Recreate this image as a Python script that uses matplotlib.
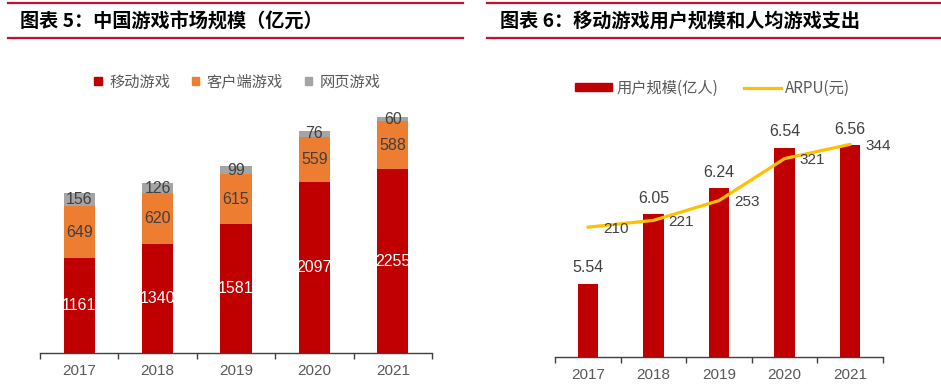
import matplotlib
matplotlib.use("Agg")
import matplotlib.pyplot as plt
from matplotlib.lines import Line2D
from matplotlib.patches import Patch
import numpy as np

plt.rcParams['font.family'] = ['Liberation Sans', 'Noto Sans CJK SC', 'DejaVu Sans']

years = ['2017', '2018', '2019', '2020', '2021']

# 图表5：中国游戏市场规模（亿元）
mobile = [1161, 1340, 1581, 2097, 2255]
client = [649, 620, 615, 559, 588]
web = [156, 126, 99, 76, 60]

# 图表6：移动游戏用户规模和人均游戏支出
users = [5.54, 6.05, 6.24, 6.54, 6.56]
arpu = [210, 221, 253, 321, 344]

RED = '#C00000'
ORANGE = '#ED7D31'
GRAY = '#A5A5A5'
YELLOW = '#FFC000'
TXT = '#595959'
DARK = '#404040'
HEAD = '#C8102E'

fig = plt.figure(figsize=(9.41, 3.87), dpi=100)
W, H = 941.0, 387.0


def fx(px):
    return px / W


def fy(py):
    return 1 - py / H


def header(x0, x1, tx, title):
    for y in (3, 38):
        fig.add_artist(Line2D([fx(x0), fx(x1)], [fy(y), fy(y)], color=HEAD, lw=1.6))
    fig.text(fx(tx), fy(22), title, fontsize=13.8, fontweight='bold', color='black',
             family=['Noto Sans CJK SC', 'DejaVu Sans'], va='center', ha='left')


def style_xaxis(ax):
    for s in ('top', 'right', 'left'):
        ax.spines[s].set_visible(False)
    ax.spines['bottom'].set_color(DARK)
    ax.spines['bottom'].set_linewidth(1.0)
    ax.set_yticks([])
    ax.set_xlim(-0.5, 4.5)
    ax.set_xticks(range(len(years)))
    ax.set_xticklabels(years, fontsize=11, color=TXT)
    ax.tick_params(axis='x', which='major', length=0, pad=8)
    ax.set_xticks(np.arange(-0.5, len(years)), minor=True)
    ax.tick_params(axis='x', which='minor', length=4, width=1, color=DARK)


header(8, 463, 20, '图表 5：中国游戏市场规模（亿元）')
header(487, 941, 500, '图表 6：移动游戏用户规模和人均游戏支出')

# left chart: stacked bars
ax1 = fig.add_axes([fx(40), fy(353), fx(392), 285 / H])
x = np.arange(len(years))
b1 = ax1.bar(x, mobile, 0.4, color=RED)
b2 = ax1.bar(x, client, 0.4, bottom=mobile, color=ORANGE)
b3 = ax1.bar(x, web, 0.4, bottom=np.add(mobile, client), color=GRAY)
ax1.bar_label(b1, label_type='center', color='white', fontsize=11.5)
ax1.bar_label(b2, label_type='center', color=DARK, fontsize=11.5)
ax1.bar_label(b3, label_type='center', color=DARK, fontsize=11.5)
ax1.set_ylim(0, 3500)
style_xaxis(ax1)

fig.legend([Patch(color=RED), Patch(color=ORANGE), Patch(color=GRAY)],
           ['移动游戏', '客户端游戏', '网页游戏'],
           loc='center', bbox_to_anchor=(fx(237.5), fy(82)), ncol=3, frameon=False,
           prop={'family': ['Noto Sans CJK SC'], 'size': 11}, labelcolor=TXT,
           handlelength=0.5, handleheight=0.5, handletextpad=0.5, columnspacing=1.4)

# right chart: bars + ARPU line
ax2 = fig.add_axes([fx(555), fy(357), fx(328), 272 / H])
bu = ax2.bar(x, users, 0.31, color=RED)
ax2.bar_label(bu, labels=['%.2f' % v for v in users], padding=6, color=DARK, fontsize=11.5)
ax2.set_ylim(5.0, 7.0)
style_xaxis(ax2)

ax3 = ax2.twinx()
ax3.plot(x, arpu, color=YELLOW, lw=2.3, solid_capstyle='round')
for xi, v in zip(x, arpu):
    ax3.annotate(str(v), (xi, v), xytext=(20, -1), textcoords='offset points',
                 ha='center', va='center', color=DARK, fontsize=11)
ax3.set_ylim(0, 440)
ax3.set_axis_off()

fig.legend([Patch(color=RED), Line2D([], [], color=YELLOW, lw=2.3)],
           ['用户规模(亿人)', 'ARPU(元)'],
           loc='center', bbox_to_anchor=(fx(712.5), fy(88)), ncol=2, frameon=False,
           prop={'family': ['Noto Sans CJK SC'], 'size': 11}, labelcolor=TXT,
           handlelength=2.4, handleheight=0.5, handletextpad=0.3, columnspacing=1.7)

fig.savefig('out.png', dpi=100)
